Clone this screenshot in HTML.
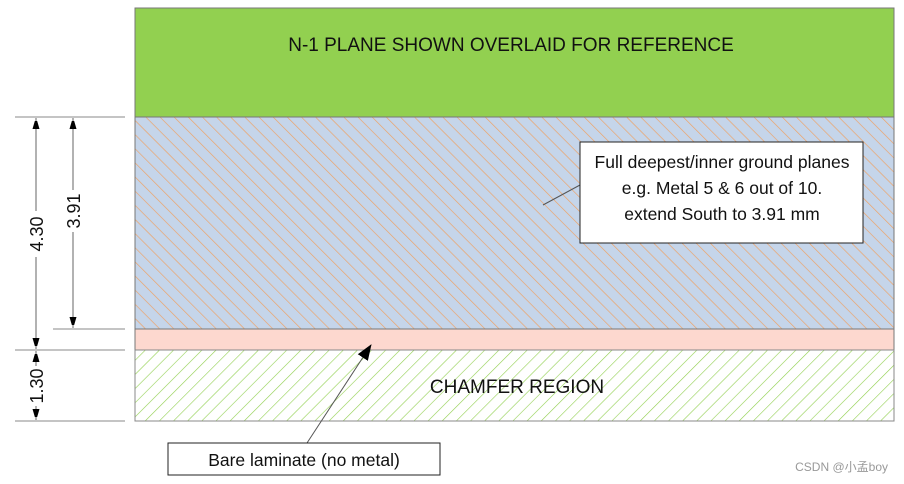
<!DOCTYPE html>
<html><head><meta charset="utf-8"><style>html,body{margin:0;padding:0;background:#fff}svg{display:block}</style></head>
<body>
<svg width="904" height="484" viewBox="0 0 904 484" xmlns="http://www.w3.org/2000/svg">
<defs>
<pattern id="orng" width="10" height="10" patternUnits="userSpaceOnUse" patternTransform="rotate(-45)">
<rect width="10" height="10" fill="#c5d5ea"/>
<line x1="0" y1="0" x2="0" y2="10" stroke="#f0a060" stroke-width="1.3"/>
</pattern>
<pattern id="grn" width="10" height="10" patternUnits="userSpaceOnUse" patternTransform="rotate(45)">
<rect width="10" height="10" fill="#fff"/>
<line x1="0" y1="0" x2="0" y2="10" stroke="#92d050" stroke-width="1.2"/>
</pattern>
<marker id="ah" markerWidth="8" markerHeight="12" refX="11" refY="4" orient="auto" markerUnits="userSpaceOnUse">
<path d="M0,0.5 L12,4 L0,7.5 Z" fill="#000"/>
</marker>
<marker id="ah2" markerWidth="16" markerHeight="14" refX="15" refY="7" orient="auto" markerUnits="userSpaceOnUse">
<path d="M0,1 L16,7 L0,13 Z" fill="#000"/>
</marker>
</defs>
<rect x="135" y="8" width="759" height="109" fill="#92d050" stroke="#777" stroke-width="1"/>
<rect x="135" y="117" width="759" height="212" fill="url(#orng)" stroke="#777" stroke-width="1"/>
<rect x="135" y="329" width="759" height="21" fill="#fdd8cf" stroke="#777" stroke-width="1"/>
<rect x="135" y="350" width="759" height="71" fill="url(#grn)" stroke="#888" stroke-width="1"/>
<text x="511" y="51" font-family="Liberation Sans, sans-serif" font-size="19" text-anchor="middle" fill="#111">N-1 PLANE SHOWN OVERLAID FOR REFERENCE</text>
<text x="517" y="393" font-family="Liberation Sans, sans-serif" font-size="19" text-anchor="middle" fill="#111">CHAMFER REGION</text>
<g stroke="#888" stroke-width="1">
<line x1="15" y1="117" x2="125" y2="117"/>
<line x1="53" y1="329" x2="125" y2="329"/>
<line x1="15" y1="350" x2="125" y2="350"/>
<line x1="15" y1="421" x2="125" y2="421"/>
</g>
<g stroke="#666" stroke-width="1">
<line x1="36" y1="211" x2="36" y2="118" marker-end="url(#ah)"/>
<line x1="36" y1="257" x2="36" y2="349" marker-end="url(#ah)"/>
<line x1="73" y1="190" x2="73" y2="118" marker-end="url(#ah)"/>
<line x1="73" y1="232" x2="73" y2="328" marker-end="url(#ah)"/>
<line x1="36" y1="366" x2="36" y2="351" marker-end="url(#ah)"/>
<line x1="36" y1="406" x2="36" y2="420" marker-end="url(#ah)"/>
</g>
<g font-family="Liberation Sans, sans-serif" font-size="18" fill="#111" text-anchor="middle">
<text transform="translate(43,234) rotate(-90)">4.30</text>
<text transform="translate(80,211) rotate(-90)">3.91</text>
<text transform="translate(43,386) rotate(-90)">1.30</text>
</g>
<line x1="543" y1="205" x2="580" y2="185" stroke="#555" stroke-width="1"/>
<rect x="580" y="142" width="283" height="101" fill="#fff" stroke="#222" stroke-width="1"/>
<g font-family="Liberation Sans, sans-serif" font-size="17.5" fill="#111" text-anchor="middle">
<text x="722" y="168">Full deepest/inner ground planes</text>
<text x="722" y="194">e.g. Metal 5 &amp; 6 out of 10.</text>
<text x="722" y="220">extend South to 3.91 mm</text>
</g>
<line x1="307" y1="443" x2="371" y2="345" stroke="#555" stroke-width="1" marker-end="url(#ah2)"/>
<rect x="168" y="443" width="272" height="32" fill="#fff" stroke="#222" stroke-width="1"/>
<text x="304" y="466" font-family="Liberation Sans, sans-serif" font-size="17.5" fill="#111" text-anchor="middle">Bare laminate (no metal)</text>
<text x="888" y="471" font-family="Liberation Sans, 'Noto Sans CJK SC', sans-serif" font-size="12" fill="#999" text-anchor="end">CSDN @小孟boy</text>
</svg>
</body></html>
